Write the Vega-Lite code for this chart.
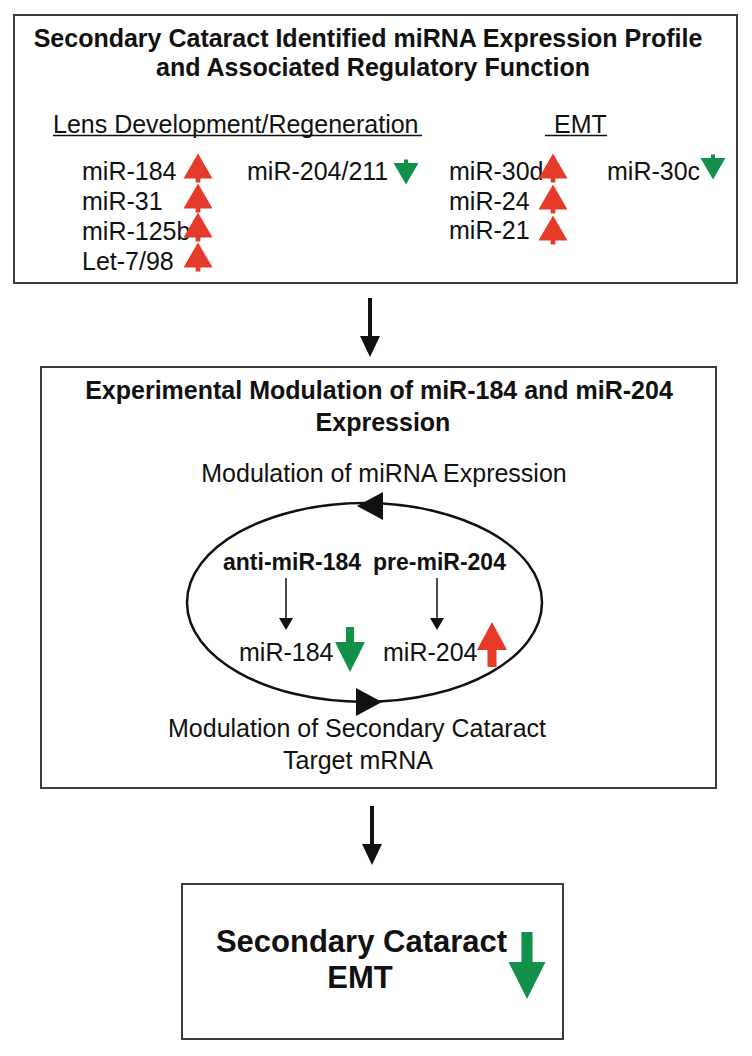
{
  "$schema": "https://vega.github.io/schema/vega-lite/v6.json",
  "width": 752,
  "height": 1056,
  "autosize": {"type": "fit", "contains": "padding"},
  "padding": 0,
  "background": "white",
  "config": {"view": {"stroke": null}, "text": {"font": "Liberation Sans", "color": "#111111"}},
  "datasets": {
    "boxes": [
      {"x": 14, "x2": 737, "y": 15, "y2": 283},
      {"x": 41, "x2": 716, "y": 367, "y2": 788},
      {"x": 182, "x2": 563, "y": 884, "y2": 1039}
    ],
    "titles": [
      {"x": 368, "y": 47, "t": "Secondary Cataract Identified miRNA Expression Profile"},
      {"x": 373, "y": 76, "t": "and Associated Regulatory Function"},
      {"x": 379, "y": 399, "t": "Experimental Modulation of miR-184 and miR-204"},
      {"x": 383, "y": 431, "t": "Expression"}
    ],
    "bodyCenter": [
      {"x": 384, "y": 482, "t": "Modulation of miRNA Expression"},
      {"x": 357, "y": 737, "t": "Modulation of Secondary Cataract"},
      {"x": 358, "y": 769, "t": "Target mRNA"}
    ],
    "bodyLeft": [
      {"x": 53, "y": 133, "t": "Lens Development/Regeneration"},
      {"x": 554, "y": 133, "t": "EMT"},
      {"x": 82, "y": 180, "t": "miR-184"},
      {"x": 82, "y": 210, "t": "miR-31"},
      {"x": 82, "y": 240, "t": "miR-125b"},
      {"x": 82, "y": 270, "t": "Let-7/98"},
      {"x": 247, "y": 180, "t": "miR-204/211"},
      {"x": 449, "y": 180, "t": "miR-30d"},
      {"x": 449, "y": 210, "t": "miR-24"},
      {"x": 449, "y": 239, "t": "miR-21"},
      {"x": 607, "y": 180, "t": "miR-30c"},
      {"x": 239, "y": 661, "t": "miR-184"},
      {"x": 383, "y": 661, "t": "miR-204"}
    ],
    "boldMid": [
      {"x": 223, "y": 570, "t": "anti-miR-184"},
      {"x": 373, "y": 570, "t": "pre-miR-204"}
    ],
    "boldBig": [
      {"x": 361.5, "y": 952, "t": "Secondary Cataract"},
      {"x": 360, "y": 988, "t": "EMT"}
    ],
    "underlines": [
      {"x": 53, "x2": 422, "y": 135.5},
      {"x": 545, "x2": 607, "y": 135.5}
    ],
    "thickShafts": [
      {"x": 370, "y": 298, "y2": 340},
      {"x": 372, "y": 806, "y2": 848}
    ],
    "thickHeads": [
      {"x": 370, "y": 346},
      {"x": 372, "y": 854}
    ],
    "thinShafts": [
      {"x": 286, "y": 578, "y2": 622},
      {"x": 437, "y": 578, "y2": 622}
    ],
    "thinHeads": [
      {"x": 286, "y": 624},
      {"x": 437, "y": 624}
    ],
    "loop": [{"x": 364.5, "y": 602.5}],
    "loopLeft": [{"x": 370, "y": 506}],
    "loopRight": [{"x": 369, "y": 702}],
    "redSmall": [
      {"x": 198, "y": 168}, {"x": 198, "y": 198}, {"x": 198, "y": 227}, {"x": 198, "y": 257},
      {"x": 553, "y": 168}, {"x": 553, "y": 199}, {"x": 553, "y": 230}
    ],
    "greenSmall": [
      {"x": 406, "y": 172}, {"x": 713, "y": 167}
    ],
    "greenMid": [{"x": 350, "y": 649.5}],
    "redMid": [{"x": 492, "y": 644.5}],
    "greenBig": [{"x": 527, "y": 965.5}]
  },
  "encoding": {
    "x": {"field": "x", "type": "quantitative", "scale": {"domain": [0, 752], "nice": false, "zero": false}, "axis": null},
    "y": {"field": "y", "type": "quantitative", "scale": {"domain": [0, 1056], "nice": false, "zero": false, "reverse": true}, "axis": null}
  },
  "layer": [
    {
      "data": {"name": "boxes"},
      "mark": {"type": "rect", "filled": false, "stroke": "#3c3c3c", "strokeWidth": 2},
      "encoding": {"x2": {"field": "x2"}, "y2": {"field": "y2"}}
    },
    {
      "data": {"name": "loop"},
      "mark": {"type": "point", "filled": false, "opacity": 1, "stroke": "#111111", "strokeWidth": 2.5, "size": 126025,
        "shape": "M-1,0C-1,-0.3093,-0.5523,-0.56,0,-0.56C0.5523,-0.56,1,-0.3093,1,0C1,0.3093,0.5523,0.56,0,0.56C-0.5523,0.56,-1,0.3093,-1,0Z"}
    },
    {
      "data": {"name": "loopLeft"},
      "mark": {"type": "point", "filled": true, "opacity": 1, "color": "#111111", "size": 784, "shape": "M-0.93,0L0.93,-1L0.93,1Z"}
    },
    {
      "data": {"name": "loopRight"},
      "mark": {"type": "point", "filled": true, "opacity": 1, "color": "#111111", "size": 784, "shape": "M0.93,0L-0.93,-1L-0.93,1Z"}
    },
    {
      "data": {"name": "titles"},
      "mark": {"type": "text", "fontSize": 25, "fontWeight": "bold", "align": "center", "baseline": "alphabetic"},
      "encoding": {"text": {"field": "t"}}
    },
    {
      "data": {"name": "bodyCenter"},
      "mark": {"type": "text", "fontSize": 25, "align": "center", "baseline": "alphabetic"},
      "encoding": {"text": {"field": "t"}}
    },
    {
      "data": {"name": "bodyLeft"},
      "mark": {"type": "text", "fontSize": 25, "align": "left", "baseline": "alphabetic"},
      "encoding": {"text": {"field": "t"}}
    },
    {
      "data": {"name": "boldMid"},
      "mark": {"type": "text", "fontSize": 23, "fontWeight": "bold", "align": "left", "baseline": "alphabetic"},
      "encoding": {"text": {"field": "t"}}
    },
    {
      "data": {"name": "boldBig"},
      "mark": {"type": "text", "fontSize": 31, "fontWeight": "bold", "align": "center", "baseline": "alphabetic"},
      "encoding": {"text": {"field": "t"}}
    },
    {
      "data": {"name": "underlines"},
      "mark": {"type": "rule", "color": "#111111", "strokeWidth": 1.5},
      "encoding": {"x2": {"field": "x2"}}
    },
    {
      "data": {"name": "thickShafts"},
      "mark": {"type": "rule", "color": "#111111", "strokeWidth": 4},
      "encoding": {"y2": {"field": "y2"}}
    },
    {
      "data": {"name": "thickHeads"},
      "mark": {"type": "point", "filled": true, "opacity": 1, "color": "#111111", "size": 400, "shape": "M-1,-1L1,-1L0,1.1Z"}
    },
    {
      "data": {"name": "thinShafts"},
      "mark": {"type": "rule", "color": "#111111", "strokeWidth": 1.5},
      "encoding": {"y2": {"field": "y2"}}
    },
    {
      "data": {"name": "thinHeads"},
      "mark": {"type": "point", "filled": true, "opacity": 1, "color": "#111111", "size": 196, "shape": "M-1,-0.86L1,-0.86L0,0.86Z"}
    },
    {
      "data": {"name": "redSmall"},
      "mark": {"type": "point", "filled": true, "opacity": 1, "color": "#e63a2a", "size": 841, "shape": "M0,-1L1,0.72L0.16,0.72L0.16,1L-0.16,1L-0.16,0.72L-1,0.72Z"}
    },
    {
      "data": {"name": "greenSmall"},
      "mark": {"type": "point", "filled": true, "opacity": 1, "color": "#12914a", "size": 625, "shape": "M0,1L1,-0.72L0.16,-0.72L0.16,-1L-0.16,-1L-0.16,-0.72L-1,-0.72Z"}
    },
    {
      "data": {"name": "greenMid"},
      "mark": {"type": "point", "filled": true, "opacity": 1, "color": "#12914a", "size": 900, "shape": "M-0.27,-1.5L0.27,-1.5L0.27,-0.5L1,-0.5L0,1.5L-1,-0.5L-0.27,-0.5Z"}
    },
    {
      "data": {"name": "redMid"},
      "mark": {"type": "point", "filled": true, "opacity": 1, "color": "#e63a2a", "size": 900, "shape": "M0,-1.5L1,0.37L0.3,0.37L0.3,1.5L-0.3,1.5L-0.3,0.37L-1,0.37Z"}
    },
    {
      "data": {"name": "greenBig"},
      "mark": {"type": "point", "filled": true, "opacity": 1, "color": "#12914a", "size": 1369, "shape": "M-0.3,-1.81L0.3,-1.81L0.3,-0.19L1,-0.19L0,1.81L-1,-0.19L-0.3,-0.19Z"}
    }
  ]
}
